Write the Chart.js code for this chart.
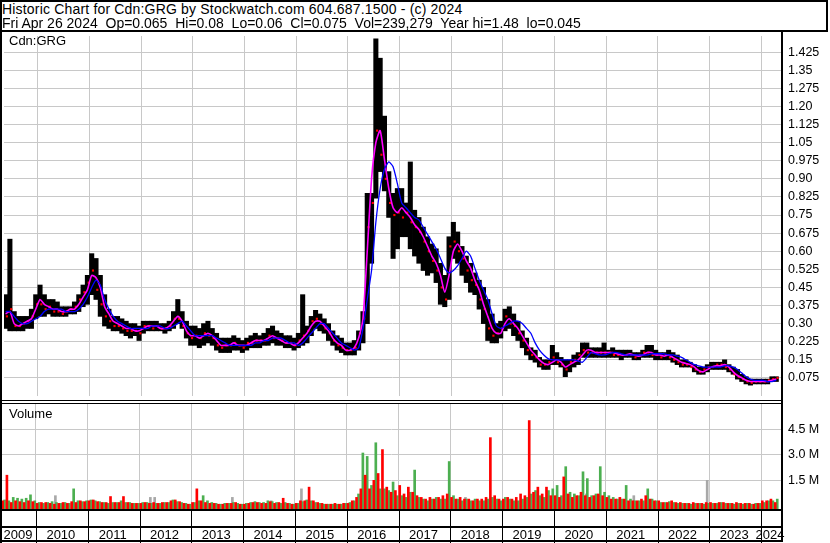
<!DOCTYPE html>
<html>
<head>
<meta charset="utf-8">
<title>Cdn:GRG historic chart</title>
<script src="https://cdn.jsdelivr.net/npm/chart.js@4.4.1/dist/chart.umd.min.js"></script>
<style>
  body { margin: 0; background: #fff; }
  #page { position: relative; width: 830px; height: 543px; overflow: hidden; font-family: "Liberation Sans", Arial, sans-serif; color: #000; }
  canvas { position: absolute; left: 0; }
  .txt { position: absolute; white-space: pre; line-height: 1; }
  .ln { position: absolute; background: #000; }
</style>
</head>
<body>
<div id="page">
  <canvas id="priceChart" width="830" height="368" style="top:32px;width:830px;height:368px"></canvas>
  <canvas id="volumeChart" width="830" height="139" style="top:404px;width:830px;height:139px"></canvas>

  <div class="txt" style="left:2px;top:2px;font-size:14px;letter-spacing:0.18px">Historic Chart for Cdn:GRG by Stockwatch.com 604.687.1500 - (c) 2024</div>
  <div class="txt" style="left:2px;top:16px;font-size:14px">Fri Apr 26 2024  Op=0.065  Hi=0.08  Lo=0.06  Cl=0.075  Vol=239,279  Year hi=1.48  lo=0.045</div>
  <div class="txt" style="left:9px;top:34px;font-size:13px">Cdn:GRG</div>
  <div class="txt" style="left:9px;top:407px;font-size:13px">Volume</div>

  <!-- frame -->
  <div class="ln" style="left:0;top:0;width:2px;height:543px"></div>
  <div class="ln" style="left:0;top:0;width:828px;height:2px"></div>
  <div class="ln" style="left:826px;top:0;width:2px;height:32px"></div>
  <div class="ln" style="left:0;top:30px;width:828px;height:2px"></div>
  <div class="ln" style="left:781px;top:30px;width:2px;height:512px"></div>
  <div class="ln" style="left:0;top:400px;width:783px;height:1px"></div>
  <div class="ln" style="left:0;top:403px;width:783px;height:1px"></div>
  <div class="ln" style="left:0;top:509px;width:783px;height:2px"></div>
  <div class="ln" style="left:0;top:526px;width:783px;height:2px"></div>
  <div class="ln" style="left:0;top:540px;width:783px;height:2px"></div>
</div>

<script>
// first plotted month, one value per month after that
const firstMonth = "2009-05";
const yearLabels = ["2009", "2010", "2011", "2012", "2013", "2014", "2015", "2016",
  "2017", "2018", "2019", "2020", "2021", "2022", "2023", "2024"];
const priceTicks = [0.075, 0.15, 0.225, 0.30, 0.375, 0.45, 0.525, 0.60, 0.675, 0.75,
  0.825, 0.90, 0.975, 1.05, 1.125, 1.20, 1.275, 1.35, 1.425];
const volumeTicks = [1.5, 3.0, 4.5];

// monthly low / high / close
const priceLow = [
  0.28, 0.27, 0.27, 0.27, 0.27, 0.28, 0.28, 0.32,                          // 2009 May-Dec
  0.33, 0.33, 0.34, 0.33, 0.33, 0.33, 0.33, 0.34, 0.34, 0.35, 0.37, 0.38,  // 2010
  0.42, 0.40, 0.33, 0.29, 0.28, 0.27, 0.27, 0.26, 0.25, 0.24, 0.25, 0.23,  // 2011
  0.26, 0.27, 0.27, 0.27, 0.27, 0.26, 0.27, 0.28, 0.30, 0.28, 0.24, 0.21,  // 2012
  0.21, 0.20, 0.21, 0.22, 0.21, 0.19, 0.18, 0.18, 0.18, 0.19, 0.19, 0.18,  // 2013
  0.19, 0.20, 0.20, 0.20, 0.21, 0.21, 0.22, 0.21, 0.21, 0.20, 0.20, 0.19,  // 2014
  0.20, 0.21, 0.22, 0.25, 0.28, 0.27, 0.26, 0.23, 0.21, 0.19, 0.18, 0.17,  // 2015
  0.17, 0.17, 0.19, 0.22, 0.30, 0.55, 0.82, 0.93, 0.85, 0.74, 0.57, 0.61,  // 2016
  0.66, 0.66, 0.61, 0.58, 0.55, 0.52, 0.50, 0.51, 0.47, 0.38, 0.37, 0.40,  // 2017
  0.57, 0.55, 0.50, 0.47, 0.43, 0.42, 0.36, 0.30, 0.23, 0.22, 0.22, 0.24,  // 2018
  0.27, 0.28, 0.25, 0.23, 0.20, 0.17, 0.15, 0.14, 0.12, 0.11, 0.11, 0.13,  // 2019
  0.13, 0.12, 0.08, 0.10, 0.12, 0.13, 0.16, 0.16, 0.16, 0.16, 0.16, 0.16,  // 2020
  0.16, 0.16, 0.16, 0.15, 0.16, 0.16, 0.15, 0.15, 0.16, 0.16, 0.16, 0.15,  // 2021
  0.15, 0.15, 0.15, 0.14, 0.13, 0.12, 0.12, 0.12, 0.10, 0.09, 0.09, 0.10,  // 2022
  0.11, 0.11, 0.11, 0.11, 0.10, 0.09, 0.07, 0.06, 0.05, 0.045, 0.05, 0.05, // 2023
  0.05, 0.05, 0.06, 0.06                                                   // 2024 Jan-Apr
];
const priceHigh = [
  0.42, 0.65, 0.35, 0.33, 0.33, 0.33, 0.36, 0.42,
  0.46, 0.42, 0.40, 0.40, 0.39, 0.37, 0.37, 0.37, 0.39, 0.42, 0.46, 0.50,
  0.59, 0.57, 0.50, 0.42, 0.36, 0.33, 0.33, 0.32, 0.31, 0.30, 0.30, 0.29,
  0.31, 0.31, 0.31, 0.31, 0.30, 0.30, 0.31, 0.35, 0.40, 0.35, 0.31, 0.29,
  0.29, 0.28, 0.30, 0.31, 0.28, 0.26, 0.24, 0.24, 0.24, 0.25, 0.24, 0.23,
  0.24, 0.25, 0.26, 0.25, 0.26, 0.28, 0.29, 0.27, 0.26, 0.25, 0.25, 0.24,
  0.26, 0.42, 0.29, 0.33, 0.355, 0.34, 0.32, 0.30, 0.27, 0.25, 0.24, 0.22,
  0.22, 0.23, 0.27, 0.35, 0.84, 0.84, 1.48, 1.40, 1.16, 0.93, 0.84, 0.86,
  0.86, 0.80, 0.97, 0.77, 0.74, 0.70, 0.66, 0.63, 0.61, 0.55, 0.50, 0.66,
  0.72, 0.68, 0.62, 0.58, 0.55, 0.51, 0.48, 0.45, 0.40, 0.34, 0.30, 0.31,
  0.36, 0.37, 0.34, 0.31, 0.27, 0.24, 0.20, 0.19, 0.16, 0.15, 0.15, 0.21,
  0.18, 0.16, 0.15, 0.15, 0.17, 0.18, 0.22, 0.22, 0.20, 0.20, 0.20, 0.22,
  0.19, 0.20, 0.19, 0.19, 0.19, 0.19, 0.18, 0.18, 0.19, 0.21, 0.21, 0.19,
  0.18, 0.18, 0.19, 0.18, 0.17, 0.15, 0.15, 0.14, 0.13, 0.12, 0.12, 0.13,
  0.14, 0.14, 0.14, 0.15, 0.13, 0.12, 0.11, 0.09, 0.08, 0.07, 0.07, 0.07,
  0.07, 0.07, 0.08, 0.08
];
const priceClose = [
  0.33, 0.36, 0.29, 0.29, 0.30, 0.31, 0.33, 0.38,
  0.38, 0.36, 0.37, 0.35, 0.35, 0.34, 0.35, 0.36, 0.37, 0.40, 0.43, 0.47,
  0.52, 0.44, 0.38, 0.33, 0.31, 0.29, 0.29, 0.28, 0.27, 0.27, 0.27, 0.26,
  0.29, 0.29, 0.28, 0.29, 0.28, 0.28, 0.29, 0.32, 0.32, 0.29, 0.26, 0.24,
  0.25, 0.24, 0.26, 0.25, 0.24, 0.21, 0.20, 0.21, 0.21, 0.22, 0.21, 0.20,
  0.22, 0.22, 0.23, 0.23, 0.23, 0.25, 0.24, 0.24, 0.23, 0.22, 0.22, 0.21,
  0.23, 0.25, 0.27, 0.31, 0.32, 0.30, 0.28, 0.26, 0.23, 0.21, 0.20, 0.19,
  0.19, 0.20, 0.26, 0.32, 0.70, 0.80, 1.10, 1.00, 0.90, 0.80, 0.75, 0.76,
  0.74, 0.76, 0.72, 0.70, 0.68, 0.64, 0.60, 0.56, 0.52, 0.45, 0.40, 0.62,
  0.64, 0.60, 0.57, 0.52, 0.48, 0.46, 0.40, 0.36, 0.28, 0.25, 0.26, 0.28,
  0.33, 0.30, 0.29, 0.26, 0.23, 0.19, 0.17, 0.16, 0.13, 0.13, 0.14, 0.16,
  0.14, 0.13, 0.11, 0.14, 0.15, 0.17, 0.19, 0.18, 0.18, 0.18, 0.18, 0.18,
  0.18, 0.17, 0.17, 0.17, 0.17, 0.17, 0.16, 0.17, 0.18, 0.18, 0.17, 0.17,
  0.16, 0.17, 0.16, 0.15, 0.14, 0.13, 0.13, 0.12, 0.11, 0.10, 0.11, 0.12,
  0.12, 0.13, 0.13, 0.12, 0.11, 0.09, 0.08, 0.07, 0.06, 0.055, 0.06, 0.06,
  0.06, 0.065, 0.07, 0.075
];

// moving averages (magenta = short, blue = long)
const maShort = [
  0.34, 0.35, 0.30, 0.29, 0.30, 0.31, 0.32, 0.36,
  0.40, 0.38, 0.37, 0.36, 0.36, 0.35, 0.35, 0.36, 0.36, 0.38, 0.41, 0.44,
  0.50, 0.49, 0.45, 0.37, 0.34, 0.31, 0.30, 0.29, 0.28, 0.28, 0.27, 0.27,
  0.28, 0.29, 0.29, 0.29, 0.28, 0.28, 0.29, 0.31, 0.33, 0.31, 0.27, 0.25,
  0.25, 0.24, 0.25, 0.26, 0.25, 0.23, 0.21, 0.21, 0.21, 0.22, 0.21, 0.21,
  0.21, 0.22, 0.23, 0.23, 0.23, 0.24, 0.25, 0.24, 0.23, 0.22, 0.22, 0.21,
  0.22, 0.24, 0.26, 0.29, 0.31, 0.31, 0.29, 0.27, 0.24, 0.22, 0.21, 0.19,
  0.19, 0.20, 0.24, 0.32, 0.60, 0.90, 1.05, 1.10, 0.98, 0.86, 0.78, 0.76,
  0.78, 0.76, 0.74, 0.71, 0.69, 0.66, 0.62, 0.58, 0.55, 0.50, 0.43, 0.50,
  0.60, 0.63, 0.60, 0.56, 0.53, 0.48, 0.44, 0.38, 0.33, 0.28, 0.26, 0.26,
  0.30, 0.32, 0.30, 0.28, 0.25, 0.22, 0.19, 0.17, 0.15, 0.135, 0.13, 0.14,
  0.15, 0.14, 0.12, 0.13, 0.14, 0.15, 0.17, 0.19, 0.19, 0.18, 0.18, 0.18,
  0.18, 0.18, 0.175, 0.17, 0.17, 0.175, 0.17, 0.165, 0.17, 0.18, 0.18, 0.17,
  0.17, 0.165, 0.17, 0.16, 0.15, 0.14, 0.135, 0.13, 0.12, 0.105, 0.10, 0.11,
  0.12, 0.125, 0.125, 0.13, 0.12, 0.10, 0.085, 0.075, 0.065, 0.06, 0.06, 0.06,
  0.06, 0.06, 0.065, 0.07
];
const maLong = [
  0.35, 0.35, 0.33, 0.31, 0.30, 0.30, 0.31, 0.32,
  0.33, 0.35, 0.36, 0.36, 0.36, 0.36, 0.35, 0.35, 0.35, 0.36, 0.38, 0.41,
  0.45, 0.48, 0.46, 0.40, 0.36, 0.33, 0.31, 0.30, 0.29, 0.28, 0.28, 0.28,
  0.28, 0.28, 0.29, 0.29, 0.29, 0.28, 0.28, 0.29, 0.30, 0.31, 0.29, 0.27,
  0.25, 0.25, 0.25, 0.25, 0.25, 0.24, 0.23, 0.22, 0.21, 0.21, 0.21, 0.21,
  0.21, 0.21, 0.22, 0.22, 0.23, 0.23, 0.24, 0.24, 0.24, 0.23, 0.22, 0.22,
  0.21, 0.22, 0.24, 0.26, 0.28, 0.30, 0.30, 0.28, 0.26, 0.24, 0.22, 0.21,
  0.20, 0.19, 0.20, 0.28, 0.40, 0.52, 0.72, 0.86, 0.94, 0.97, 0.95, 0.88,
  0.80, 0.78, 0.76, 0.74, 0.73, 0.70, 0.67, 0.64, 0.61, 0.57, 0.53, 0.51,
  0.52, 0.54, 0.57, 0.60, 0.58, 0.53, 0.48, 0.44, 0.40, 0.34, 0.29, 0.28,
  0.29, 0.30, 0.31, 0.31, 0.30, 0.28, 0.26, 0.22, 0.19, 0.17, 0.155, 0.15,
  0.15, 0.15, 0.15, 0.15, 0.15, 0.145, 0.14, 0.16, 0.18, 0.175, 0.17, 0.17,
  0.175, 0.18, 0.18, 0.175, 0.17, 0.17, 0.17, 0.17, 0.17, 0.17, 0.175, 0.175,
  0.175, 0.175, 0.17, 0.17, 0.165, 0.16, 0.15, 0.14, 0.13, 0.125, 0.12, 0.12,
  0.12, 0.12, 0.12, 0.125, 0.125, 0.12, 0.11, 0.095, 0.08, 0.07, 0.065, 0.065,
  0.065, 0.06, 0.06, 0.065
];

// volume in millions, per month: down days (red) and up days (green)
const volDown = [
  0.3, 1.8, 0.2, 0.3, 0.25, 0.2, 0.3, 0.25,
  0.15, 0.2, 0.2, 0.15, 0.1, 0.15, 0.2, 0.15, 0.25, 0.2, 0.3, 0.25,
  0.3, 0.35, 0.25, 0.2, 0.2, 0.55, 0.2, 0.2, 0.55, 0.2, 0.15, 0.15,
  0.15, 0.2, 0.15, 0.2, 0.15, 0.2, 0.2, 0.3, 0.35, 0.25, 0.15, 0.1,
  0.2, 1.0, 0.3, 0.2, 0.15, 0.15, 0.1, 0.1, 0.15, 0.15, 0.2, 0.1,
  0.1, 0.15, 0.2, 0.2, 0.15, 0.15, 0.25, 0.15, 0.2, 0.45, 0.15, 0.1,
  0.15, 0.3, 0.3, 1.1, 0.3, 0.2, 0.15, 0.1, 0.1, 0.15, 0.1, 0.15,
  0.15, 0.3, 0.5, 1.0, 1.8, 1.0, 1.5, 1.9, 3.3, 1.1, 0.8, 0.9,
  1.2, 0.7, 1.1, 0.8, 0.6, 0.5, 0.4, 0.5, 0.4, 0.5, 0.6, 0.7,
  0.5, 0.4, 0.5, 0.4, 0.4, 0.3, 0.4, 0.4, 0.5, 4.0, 0.6, 0.4,
  0.4, 0.5, 0.4, 0.5, 0.7, 0.6, 5.0, 0.8, 1.1, 0.7, 1.1, 0.6,
  0.6, 0.5, 1.7, 0.7, 0.5, 0.6, 0.8, 0.6, 0.5, 0.6, 0.7, 0.6,
  0.5, 0.4, 0.4, 0.5, 0.4, 0.3, 0.3, 0.3, 0.4, 0.6, 0.4, 0.3,
  0.3, 0.2, 0.2, 0.3, 0.2, 0.2, 0.15, 0.15, 0.2, 0.15, 0.15, 0.2,
  0.2, 0.15, 0.2, 0.2, 0.15, 0.15, 0.2, 0.15, 0.15, 0.15, 0.1, 0.15,
  0.3, 0.3, 0.4, 0.2
];
const volUp = [
  0.35, 0.3, 0.5, 0.45, 0.4, 0.45, 0.65, 0.3,
  0.2, 0.15, 0.2, 0.25, 0.2, 0.15, 0.2, 0.15, 1.0, 0.3, 0.25, 0.3,
  0.35, 0.3, 0.25, 0.2, 0.15, 0.2, 0.2, 0.3, 0.2, 0.2, 0.15, 0.15,
  0.2, 0.2, 0.15, 0.15, 0.15, 0.2, 0.2, 0.35, 0.25, 0.2, 0.15, 0.1,
  0.2, 0.3, 0.6, 0.3, 0.2, 0.15, 0.1, 0.15, 0.15, 0.2, 0.15, 0.1,
  0.15, 0.2, 0.25, 0.2, 0.2, 0.3, 0.25, 0.2, 0.15, 0.2, 0.15, 0.1,
  0.15, 0.25, 0.35, 0.3, 0.2, 0.15, 0.1, 0.1, 0.1, 0.1, 0.1, 0.15,
  0.2, 0.3, 0.7, 3.1, 2.9, 1.2, 3.7, 1.0, 1.0, 0.9, 1.4, 0.6,
  0.6, 0.5, 0.8, 2.1, 0.5, 0.4, 0.3, 0.4, 0.5, 0.4, 0.4, 2.6,
  0.6, 0.4, 0.3, 0.4, 0.3, 0.4, 0.3, 0.3, 0.4, 0.5, 0.4, 0.3,
  0.5, 0.4, 0.3, 0.3, 0.4, 0.5, 0.7, 0.9, 0.6, 0.5, 0.9, 1.0,
  1.2, 0.6, 2.3, 0.8, 0.7, 0.6, 2.0, 1.6, 0.6, 0.7, 2.3, 0.8,
  0.6, 0.5, 0.4, 0.4, 1.2, 0.4, 0.3, 0.3, 0.3, 1.0, 0.4, 0.3,
  0.2, 0.2, 0.25, 0.2, 0.15, 0.15, 0.15, 0.1, 0.15, 0.15, 0.1, 0.15,
  0.15, 0.15, 0.2, 0.15, 0.15, 0.1, 0.15, 0.1, 0.15, 0.1, 0.15, 0.15,
  0.2, 0.3, 0.3, 0.4
];
// unchanged-price days (grey)
const grayMonths = ["2010-05", "2012-03", "2012-04", "2013-10", "2014-07", "2015-02", "2018-04", "2020-08", "2021-07", "2022-12"];
const grayVol = [0.6, 0.5, 0.5, 0.5, 0.3, 1.0, 0.5, 0.7, 0.6, 1.5];

// x axis = months since Jan 2009; window Apr 2009 .. end Apr 2024
const xMin = 4.13, xMax = 184.6;
const priceMax = 1.492;
const volMin = -0.18, volMax = 5.97;

function monthIndex(s) {
  const [y, m] = s.split("-").map(Number);
  return (y - 2009) * 12 + (m - 1);
}
const m0 = monthIndex(firstMonth);
const xs = priceHigh.map((_, i) => m0 + i);
const yearStarts = yearLabels.map((_, i) => i * 12).filter(v => v > xMin && v < xMax);

Chart.defaults.font.family = '"Liberation Sans", Arial, sans-serif';
Chart.defaults.color = "#000";

const gridGrey = "#c8c8c8";
const xAxis = {
  type: "linear", min: xMin, max: xMax, offset: false,
  ticks: { display: false },
  grid: { color: gridGrey, drawTicks: false, offset: false },
  border: { display: false },
  afterBuildTicks: s => { s.ticks = yearStarts.map(v => ({ value: v })); },
  afterFit: s => { s.height = 0; s.paddingLeft = 0; s.paddingRight = 0; }
};
// keep the right axis a fixed width and stop it from shrinking the plot
function fixRightAxis(s) {
  s.width = 49;
  s.paddingTop = 0;
  s.paddingBottom = 0;
}

function priceLabel(v) {
  return Math.round(v * 1000) % 10 === 0 ? v.toFixed(2) : v.toFixed(3);
}

// Price chart
new Chart(document.getElementById("priceChart"), {
  type: "bar",
  data: {
    datasets: [
      {
        type: "line", label: "MA long",
        data: xs.map((x, i) => ({ x: x + 0.5, y: maLong[i] })),
        borderColor: "#0000ff", borderWidth: 1.3, pointRadius: 0, tension: 0.2, order: 1
      },
      {
        type: "line", label: "MA short",
        data: xs.map((x, i) => ({ x: x + 0.5, y: maShort[i] })),
        borderColor: "#ff00ff", borderWidth: 1.6, pointRadius: 0, tension: 0.2, order: 2
      },
      {
        type: "scatter", label: "Close",
        data: xs.map((x, i) => ({ x: x + 0.8, y: priceClose[i] })),
        pointStyle: "rect", pointRadius: 1.5, backgroundColor: "#ff0000", borderWidth: 0, order: 3
      },
      {
        type: "bar", label: "Range",
        data: xs.map((x, i) => ({ x: x + 0.5, y: [priceLow[i], priceHigh[i]] })),
        backgroundColor: "#000", barThickness: 4.4, grouped: false, order: 4
      }
    ]
  },
  options: {
    responsive: false, animation: false,
    layout: { padding: { left: 2, top: 0, right: 0, bottom: 0 } },
    plugins: { legend: { display: false }, tooltip: { enabled: false } },
    scales: {
      x: xAxis,
      y: {
        position: "right", min: 0, max: priceMax,
        border: { display: false },
        grid: { color: gridGrey, drawTicks: false },
        ticks: { padding: 7, font: { size: 12.5 }, callback: v => priceLabel(v) },
        afterBuildTicks: s => { s.ticks = priceTicks.map(v => ({ value: v })); },
        afterFit: fixRightAxis
      }
    }
  }
});

// year row under the volume panel
const yearRow = {
  id: "yearRow",
  afterDraw(chart) {
    const { ctx, chartArea, scales: { x } } = chart;
    ctx.save();
    ctx.strokeStyle = "#000";
    ctx.lineWidth = 1;
    yearStarts.forEach(v => {
      const px = Math.round(x.getPixelForValue(v)) + 0.5;
      ctx.beginPath();
      ctx.moveTo(px, chartArea.bottom);
      ctx.lineTo(px, chart.height);
      ctx.stroke();
    });
    ctx.fillStyle = "#000";
    ctx.font = '13px "Liberation Sans", Arial, sans-serif';
    ctx.textAlign = "center";
    yearLabels.forEach((lab, i) => {
      const a = Math.max(x.getPixelForValue(i * 12), chartArea.left);
      const b = Math.min(x.getPixelForValue(i * 12 + 12), chartArea.right);
      ctx.fillText(lab, (a + b) / 2 - 1, chartArea.bottom + 30);
    });
    ctx.restore();
  }
};

// Volume chart
new Chart(document.getElementById("volumeChart"), {
  type: "bar",
  data: {
    datasets: [
      {
        label: "Down", data: xs.map((x, i) => ({ x: x + 0.27, y: volDown[i] })),
        backgroundColor: "#ff0000", barThickness: 2, grouped: false, base: volMin
      },
      {
        label: "Up", data: xs.map((x, i) => ({ x: x + 0.73, y: volUp[i] })),
        backgroundColor: "#4caf50", barThickness: 2, grouped: false, base: volMin
      },
      {
        label: "Unchanged", data: grayMonths.map((m, i) => ({ x: monthIndex(m) + 0.5, y: grayVol[i] })),
        backgroundColor: "#a8a8a8", barThickness: 2, grouped: false, base: volMin
      }
    ]
  },
  options: {
    responsive: false, animation: false,
    layout: { padding: { left: 2, top: 0, right: 0, bottom: 34 } },
    plugins: { legend: { display: false }, tooltip: { enabled: false } },
    scales: {
      x: xAxis,
      y: {
        position: "right", min: volMin, max: volMax,
        border: { display: false },
        grid: { color: gridGrey, drawTicks: false },
        ticks: { padding: 7, font: { size: 12.5 }, callback: v => v.toFixed(1) + " M" },
        afterBuildTicks: s => { s.ticks = volumeTicks.map(v => ({ value: v })); },
        afterFit: fixRightAxis
      }
    }
  },
  plugins: [yearRow]
});
</script>
</body>
</html>
